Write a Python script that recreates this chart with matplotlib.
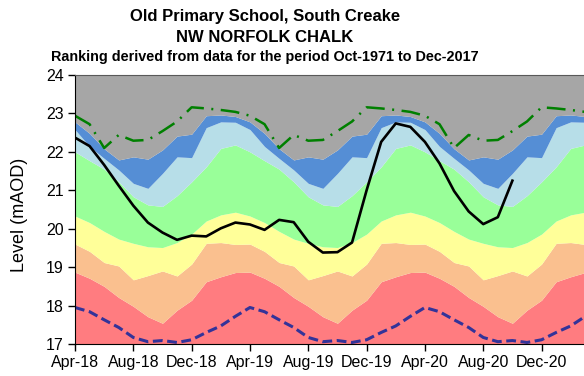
import matplotlib
matplotlib.use("Agg")
import matplotlib.pyplot as plt
import numpy as np

plt.rcParams['font.family'] = ['Liberation Sans', 'DejaVu Sans']

# Monthly ranking band tops, April to March (mAOD)
red_top = [18.87, 18.71, 18.50, 18.21, 17.98, 17.71, 17.54, 17.88, 18.14, 18.62, 18.75, 18.86]
orange_top = [19.60, 19.41, 19.12, 19.03, 18.67, 18.78, 18.90, 18.77, 19.08, 19.62, 19.64, 19.59]
yellow_top = [20.33, 20.16, 19.93, 19.73, 19.62, 19.53, 19.51, 19.64, 19.86, 20.20, 20.36, 20.43]
green_top = [22.00, 21.77, 21.55, 21.22, 20.83, 20.62, 20.58, 20.86, 21.22, 21.61, 22.09, 22.18]
ltblue_top = [22.58, 22.14, 21.83, 21.53, 21.18, 21.05, 21.44, 21.87, 21.85, 22.63, 22.78, 22.77]
blue_top = [22.78, 22.48, 22.08, 21.79, 21.87, 21.81, 22.05, 22.41, 22.46, 22.94, 22.96, 22.92]
min_level = [17.95, 17.84, 17.63, 17.43, 17.17, 17.06, 17.09, 17.04, 17.11, 17.30, 17.47, 17.72]
max_level = [22.94, 22.72, 22.10, 22.44, 22.29, 22.31, 22.54, 22.79, 23.16, 23.13, 23.09, 23.04]

# Observed level, monthly from Apr-18
level = [22.37, 22.15, 21.66, 21.12, 20.60, 20.16, 19.90, 19.71, 19.82, 19.80,
         20.01, 20.16, 20.11, 19.97, 20.23, 20.17, 19.66, 19.38, 19.39, 19.64,
         21.00, 22.26, 22.74, 22.65, 22.26, 21.70, 20.98, 20.45, 20.12, 20.30,
         21.25]

tick_labels = ['Apr-18', 'Aug-18', 'Dec-18', 'Apr-19', 'Aug-19',
               'Dec-19', 'Apr-20', 'Aug-20', 'Dec-20']

n_months = 36
x = np.arange(n_months)


def tile(vals):
    return np.tile(vals, n_months // 12)


bands = [
    (np.full(n_months, 17.0), tile(red_top), '#FF7C80'),
    (tile(red_top), tile(orange_top), '#FAC08F'),
    (tile(orange_top), tile(yellow_top), '#FFFF99'),
    (tile(yellow_top), tile(green_top), '#99FF99'),
    (tile(green_top), tile(ltblue_top), '#B7DEE8'),
    (tile(ltblue_top), tile(blue_top), '#558ED5'),
    (tile(blue_top), np.full(n_months, 24.0), '#A6A6A6'),
]

fig = plt.figure(figsize=(5.84, 3.76), dpi=100)
ax = fig.add_axes([75 / 584, 32 / 376, 509 / 584, 269 / 376])

for lo, hi, c in bands:
    ax.fill_between(x, lo, hi, color=c, linewidth=0)

ax.plot(x, tile(min_level), color='#333399', lw=2.2, linestyle=(0, (3.2, 1.5)))
ax.plot(x, tile(max_level), color='#008000', lw=1.8,
        linestyle=(0, (7.5, 3.0, 0.8, 3.0)))
ax.plot(np.arange(len(level)), level, color='black', lw=1.9)

ax.set_xlim(0, 509 / 14.58)
ax.set_ylim(17, 24)
ax.set_xticks(np.arange(0, 33, 4))
ax.set_xticklabels(tick_labels)
ax.set_yticks(np.arange(17, 25))
ax.tick_params(labelsize=11.5, length=5, width=1, direction='out', pad=3)

ax.spines['right'].set_visible(False)
ax.spines['top'].set_color('#595959')
ax.spines['left'].set_color('black')
ax.spines['bottom'].set_color('black')

fig.text(20 / 584, 1 - 215 / 376, 'Level (mAOD)', rotation=90,
         ha='center', va='center', fontsize=13)
fig.text(265 / 584, 1 - 17 / 376, 'Old Primary School, South Creake',
         ha='center', va='center', fontsize=12, fontweight='bold')
fig.text(265 / 584, 1 - 37 / 376, 'NW NORFOLK CHALK',
         ha='center', va='center', fontsize=12, fontweight='bold')
fig.text(265 / 584, 1 - 57 / 376,
         'Ranking derived from data for the period Oct-1971 to Dec-2017',
         ha='center', va='center', fontsize=10.4, fontweight='bold')

fig.savefig('out.png', dpi=100)
